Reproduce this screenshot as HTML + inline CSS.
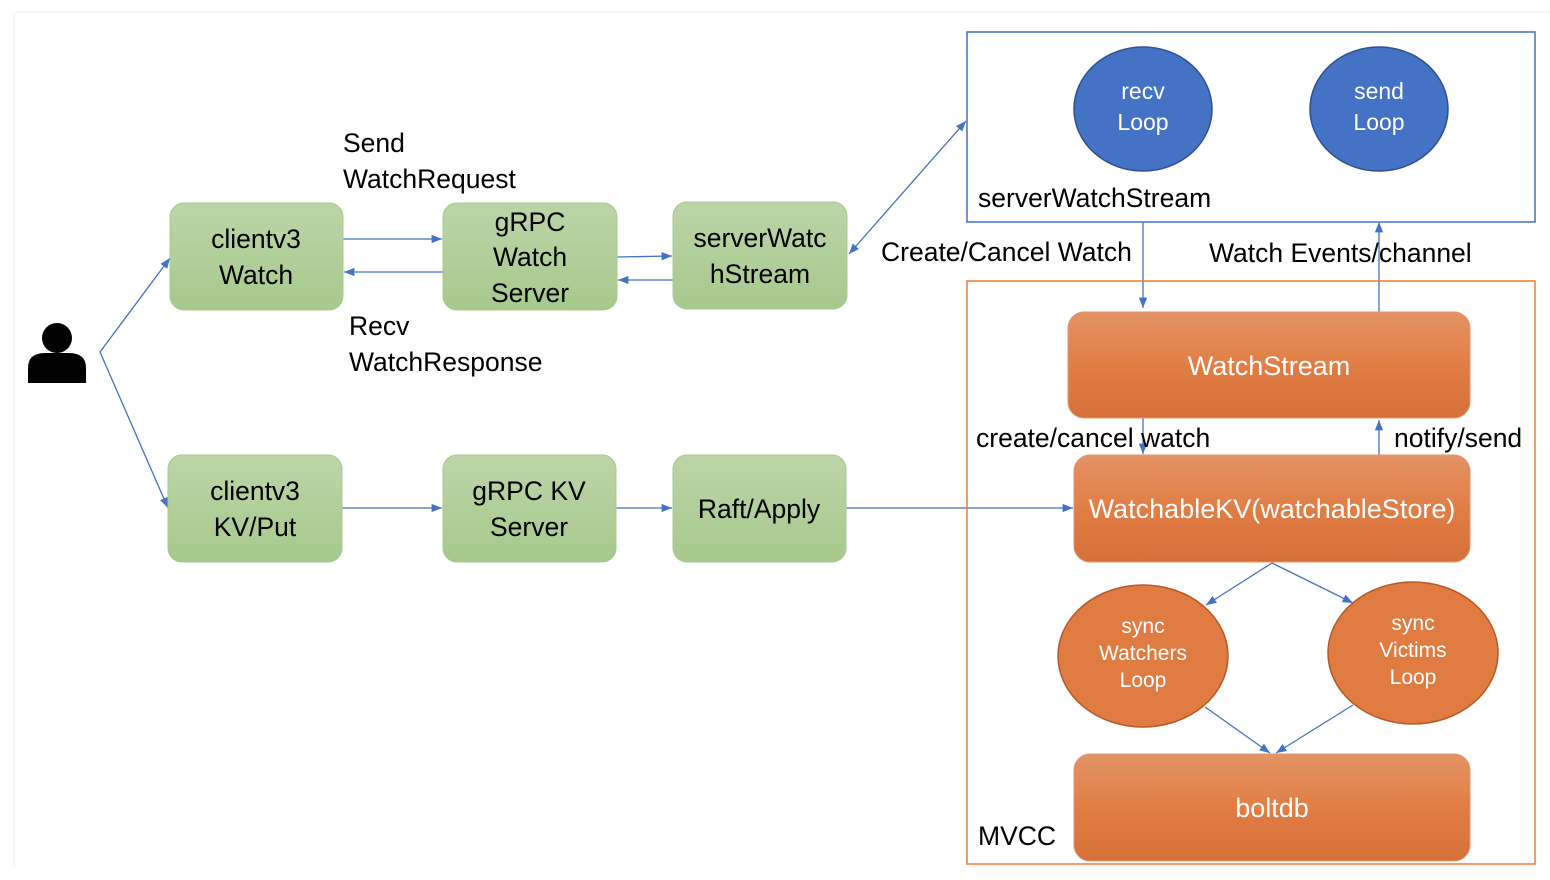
<!DOCTYPE html>
<html><head><meta charset="utf-8"><style>
html,body{margin:0;padding:0;background:#fff;}
svg{display:block;}
text{font-family:"Liberation Sans",sans-serif;}
</style></head><body>
<svg width="1550" height="880" viewBox="0 0 1550 880" xmlns="http://www.w3.org/2000/svg">
<defs>
<linearGradient id="g" x1="0" y1="0" x2="0" y2="1"><stop offset="0" stop-color="#bcd5a8"/><stop offset="1" stop-color="#a6c98c"/></linearGradient>
<linearGradient id="o" x1="0" y1="0" x2="0" y2="1"><stop offset="0" stop-color="#e39366"/><stop offset="0.5" stop-color="#e17e44"/><stop offset="1" stop-color="#d6703a"/></linearGradient>
<marker id="a" viewBox="0 0 10 10" refX="10" refY="5" markerWidth="8" markerHeight="8" orient="auto-start-reverse"><path d="M0,1 L10,5 L0,9z" fill="#4472c4"/></marker>
</defs>
<line x1="14" y1="12" x2="1550" y2="12" stroke="#f2f2f2"/>
<line x1="14" y1="12" x2="14" y2="868" stroke="#f2f2f2"/>
<circle cx="57" cy="338" r="15" fill="#000"/>
<path d="M28,383 L28,368 Q28,353 45,353 L69,353 Q86,353 86,368 L86,383z" fill="#000"/>
<g stroke="#4472c4" stroke-width="1.3" fill="none">
<polyline points="168,508 100,352 170,258" marker-start="url(#a)" marker-end="url(#a)"/>
<line x1="343" y1="239" x2="442" y2="239" marker-end="url(#a)"/>
<line x1="443" y1="272" x2="344" y2="272" marker-end="url(#a)"/>
<line x1="617" y1="257" x2="672" y2="256" marker-end="url(#a)"/>
<line x1="673" y1="280" x2="618" y2="280" marker-end="url(#a)"/>
<line x1="849" y1="254" x2="966" y2="121" marker-start="url(#a)" marker-end="url(#a)"/>
<line x1="342" y1="508" x2="442" y2="508" marker-end="url(#a)"/>
<line x1="616" y1="508" x2="672" y2="508" marker-end="url(#a)"/>
<line x1="846" y1="508" x2="1073" y2="508" marker-end="url(#a)"/>
<line x1="1143" y1="222" x2="1143" y2="308" marker-end="url(#a)"/>
<line x1="1379" y1="312" x2="1379" y2="222" marker-end="url(#a)"/>
<line x1="1143" y1="418" x2="1143" y2="454" marker-end="url(#a)"/>
<line x1="1379" y1="455" x2="1379" y2="420" marker-end="url(#a)"/>
<line x1="1272" y1="563" x2="1206" y2="605" marker-end="url(#a)"/>
<line x1="1272" y1="563" x2="1353" y2="603" marker-end="url(#a)"/>
<line x1="1205" y1="707" x2="1270" y2="753" marker-end="url(#a)"/>
<line x1="1353" y1="705" x2="1276" y2="753" marker-end="url(#a)"/>
</g>
<rect x="967" y="32" width="568" height="190" fill="none" stroke="#4472c4" stroke-width="1.5"/>
<rect x="967" y="281" width="568" height="583" fill="none" stroke="#ed7d31" stroke-width="1.5"/>
<g stroke="#a9c98f" stroke-width="1" fill="url(#g)">
<rect x="170" y="203" width="173" height="107" rx="14"/>
<rect x="443" y="203" width="174" height="107" rx="14"/>
<rect x="673" y="202" width="174" height="107" rx="14"/>
<rect x="168" y="455" width="174" height="107" rx="14"/>
<rect x="443" y="455" width="173" height="107" rx="14"/>
<rect x="673" y="455" width="173" height="107" rx="14"/>
</g>
<g fill="#4472c4" stroke="#2f528f" stroke-width="1.5">
<ellipse cx="1143" cy="109" rx="69" ry="62"/>
<ellipse cx="1379" cy="109" rx="69" ry="62"/>
</g>
<g fill="url(#o)" stroke="#e6956a" stroke-width="1">
<rect x="1068" y="312" width="402" height="106" rx="16"/>
<rect x="1074" y="455" width="396" height="107" rx="16"/>
<rect x="1074" y="754" width="396" height="107" rx="16"/>
</g>
<g fill="#e07b42" stroke="#b55a26" stroke-width="1.5">
<ellipse cx="1143" cy="656" rx="85" ry="71"/>
<ellipse cx="1413" cy="653" rx="85" ry="71"/>
</g>
<g font-size="26.5" fill="#000" text-anchor="middle">
<text x="256" y="248">clientv3</text><text x="256" y="284">Watch</text>
<text x="530" y="231">gRPC</text><text x="530" y="266">Watch</text><text x="530" y="302">Server</text>
<text x="760" y="247">serverWatc</text><text x="760" y="283">hStream</text>
<text x="255" y="500">clientv3</text><text x="255" y="536">KV/Put</text>
<text x="529" y="500">gRPC KV</text><text x="529" y="536">Server</text>
<text x="759" y="518">Raft/Apply</text>
</g>
<g font-size="26.5" fill="#000">
<text x="343" y="152">Send</text><text x="343" y="188">WatchRequest</text>
<text x="349" y="335">Recv</text><text x="349" y="371">WatchResponse</text>
<text x="881" y="261">Create/Cancel Watch</text>
<text x="1209" y="262">Watch Events/channel</text>
<text x="978" y="207">serverWatchStream</text>
<text x="976" y="447">create/cancel watch</text>
<text x="1394" y="447">notify/send</text>
<text x="978" y="845">MVCC</text>
</g>
<g fill="#fff" text-anchor="middle">
<text x="1143" y="99" font-size="23">recv</text><text x="1143" y="130" font-size="23">Loop</text>
<text x="1379" y="99" font-size="23">send</text><text x="1379" y="130" font-size="23">Loop</text>
<text x="1269" y="375" font-size="27">WatchStream</text>
<text x="1272" y="518" font-size="27">WatchableKV(watchableStore)</text>
<text x="1272" y="817" font-size="27">boltdb</text>
<text x="1143" y="633" font-size="21">sync</text><text x="1143" y="660" font-size="21">Watchers</text><text x="1143" y="687" font-size="21">Loop</text>
<text x="1413" y="630" font-size="21">sync</text><text x="1413" y="657" font-size="21">Victims</text><text x="1413" y="684" font-size="21">Loop</text>
</g>
</svg>
</body></html>
